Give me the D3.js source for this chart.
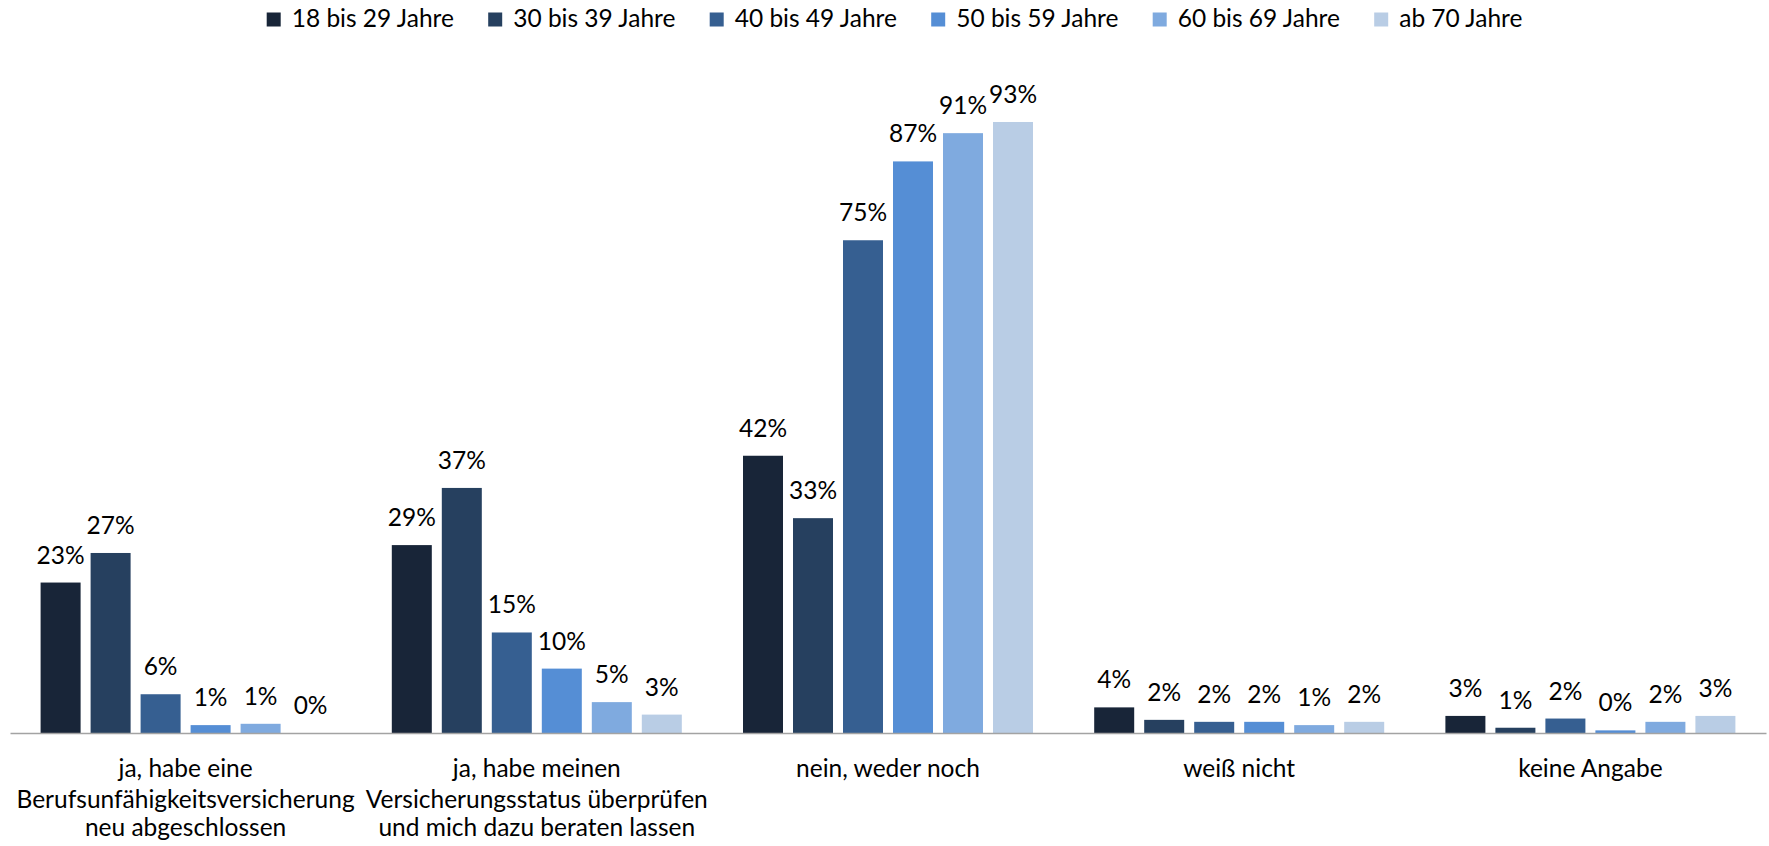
<!DOCTYPE html>
<html><head><meta charset="utf-8">
<script src="https://cdn.jsdelivr.net/npm/d3@7"></script>
<style>
body{margin:0;background:#fff;}
svg text{font-family:Lato,"Open Sans",sans-serif;fill:#000;}
</style>
</head><body>
<svg id="chart" width="1769" height="846"></svg>
<script>
// ---- data ----
const categories = [
  "ja, habe eine\nBerufsunfähigkeitsversicherung\nneu abgeschlossen",
  "ja, habe meinen\nVersicherungsstatus überprüfen\nund mich dazu beraten lassen",
  "nein, weder noch",
  "weiß nicht",
  "keine Angabe"
];
const seriesNames = ["18 bis 29 Jahre","30 bis 39 Jahre","40 bis 49 Jahre","50 bis 59 Jahre","60 bis 69 Jahre","ab 70 Jahre"];
const colors = ["#182538","#26405f","#365f91","#558ed5","#7faadf","#b9cde5"];
const v18_29 = [22.9, 28.6, 42.2, 3.9, 2.6];
const v30_39 = [27.4, 37.3, 32.7, 2.0, 0.8];
const v40_49 = [5.9, 15.3, 75.0, 1.7, 2.2];
const v50_59 = [1.2, 9.8, 87.0, 1.7, 0.4];
const v60_69 = [1.4, 4.7, 91.3, 1.2, 1.7];
const v70 = [0, 2.8, 93.0, 1.7, 2.6];
const seriesValues = [v18_29, v30_39, v40_49, v50_59, v60_69, v70];

// ---- layout ----
const svg = d3.select("#chart");
const baseY = 733;
const x0 = d3.scaleBand().domain(categories).range([10, 1766]).padding(0);
const x1 = d3.scaleBand().domain(seriesNames).range([0, x0.bandwidth()])
  .paddingInner(0.2).paddingOuter(0.612);
const y = d3.scaleLinear().domain([0, 100]).range([baseY, 76]);
const fmt = v => d3.format(".0f")(v) + "%";
const fontSize = 24.5;

const rows = [];
categories.forEach((c, ci) => {
  seriesNames.forEach((s, si) => {
    rows.push({cat: c, ser: s, si: si, v: seriesValues[si][ci]});
  });
});

// bars
svg.append("g").selectAll("rect").data(rows).join("rect")
  .attr("x", d => x0(d.cat) + x1(d.ser))
  .attr("y", d => y(d.v))
  .attr("width", x1.bandwidth())
  .attr("height", d => baseY - y(d.v))
  .attr("fill", d => colors[d.si]);

// axis line
const axis = svg.append("g").attr("transform", `translate(0,${baseY})`)
  .call(d3.axisBottom(x0).tickSize(0).tickSizeOuter(0).tickFormat(""));
axis.select(".domain").attr("stroke", "#a3a3a3").attr("stroke-width", 1.5);

// data labels
svg.append("g").selectAll("text").data(rows).join("text")
  .attr("x", d => x0(d.cat) + x1(d.ser) + x1.bandwidth() / 2)
  .attr("y", d => y(d.v) - 19)
  .attr("text-anchor", "middle")
  .style("font-size", fontSize + "px")
  .text(d => fmt(d.v));

// category labels
const lineOffsets = [0, 31, 59];
const cl = svg.append("g").selectAll("text").data(categories).join("text")
  .attr("text-anchor", "middle")
  .style("font-size", fontSize + "px");
cl.each(function(c) {
  const t = d3.select(this);
  c.split("\n").forEach((line, i) => {
    t.append("tspan")
      .attr("x", x0(c) + x0.bandwidth() / 2)
      .attr("y", 777 + lineOffsets[i])
      .text(line);
  });
});

// legend
const legX = d3.scalePoint().domain(seriesNames).range([266.7, 266.7 + 5 * 221.5]);
const leg = svg.append("g").selectAll("g").data(seriesNames).join("g")
  .attr("transform", d => `translate(${legX(d)},0)`);
leg.append("rect").attr("x", 0).attr("y", 12.5).attr("width", 14).attr("height", 14)
  .attr("fill", (d, i) => colors[i]);
leg.append("text").attr("x", 25).attr("y", 27).style("font-size", fontSize + "px").text(d => d);
</script>
</body></html>
